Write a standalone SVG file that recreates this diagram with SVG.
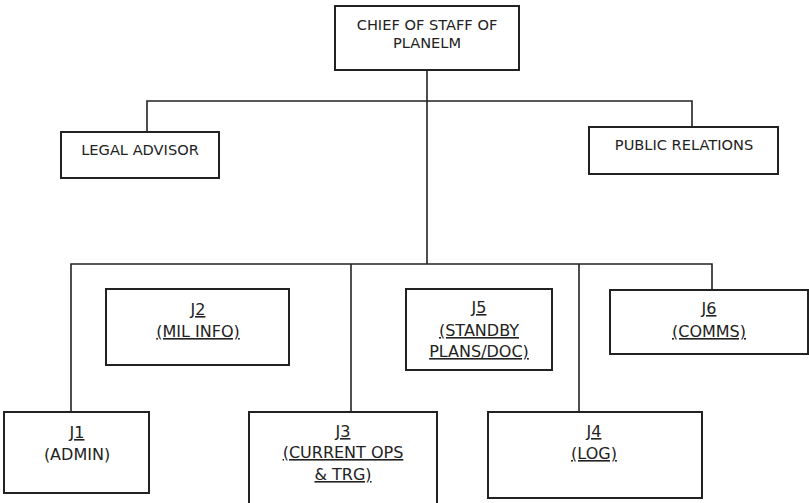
<svg xmlns="http://www.w3.org/2000/svg" width="809" height="503" viewBox="0 0 809 503">
<style>
.box{fill:#fff;stroke:#222;stroke-width:2}
.ln{fill:none;stroke:#222;stroke-width:1.6}
text{font-family:"DejaVu Sans","Liberation Sans",sans-serif;font-size:14.6px;fill:#222;text-anchor:middle}
.b{font-size:16px}
.u{text-decoration:underline}
</style>
<rect width="809" height="503" fill="#fff"/>
<g id="connectors">
<path class="ln" d="M427 70V264"/>
<path class="ln" d="M147 132V101H692V127"/>
<path class="ln" d="M71 412V264H712V290"/>
<path class="ln" d="M351 264V412"/>
<path class="ln" d="M579 264V412"/>
</g>
<g id="chief"><rect class="box" x="335" y="6" width="184" height="64"/><text x="427" y="30">CHIEF OF STAFF OF</text><text x="427" y="48">PLANELM</text></g>
<g id="legal"><rect class="box" x="61" y="132" width="158" height="46"/><text x="140" y="155">LEGAL ADVISOR</text></g>
<g id="pr"><rect class="box" x="589" y="127" width="189" height="47"/><text x="684" y="150">PUBLIC RELATIONS</text></g>
<g id="j2"><rect class="box" x="106" y="289" width="183" height="76"/><text class="u b" x="198" y="315">J2</text><text class="u b" x="198" y="337">(MIL INFO)</text></g>
<g id="j5"><rect class="box" x="406" y="289" width="146" height="81"/><text class="u b" x="479" y="313">J5</text><text class="u b" x="479" y="336">(STANDBY</text><text class="u b" x="479" y="357">PLANS/DOC)</text></g>
<g id="j6"><rect class="box" x="610" y="290" width="198" height="64"/><text class="u b" x="709" y="314">J6</text><text class="u b" x="709" y="337">(COMMS)</text></g>
<g id="j1"><rect class="box" x="4" y="412" width="145" height="81"/><text class="u b" x="77" y="438">J1</text><text class="b" x="77" y="460">(ADMIN)</text></g>
<g id="j3"><rect class="box" x="249" y="412" width="188" height="95"/><text class="u b" x="343" y="437">J3</text><text class="u b" x="343" y="458">(CURRENT OPS</text><text class="u b" x="343" y="480">&amp; TRG)</text></g>
<g id="j4"><rect class="box" x="488" y="412" width="214" height="86"/><text class="u b" x="594" y="437">J4</text><text class="u b" x="594" y="459">(LOG)</text></g>
</svg>
